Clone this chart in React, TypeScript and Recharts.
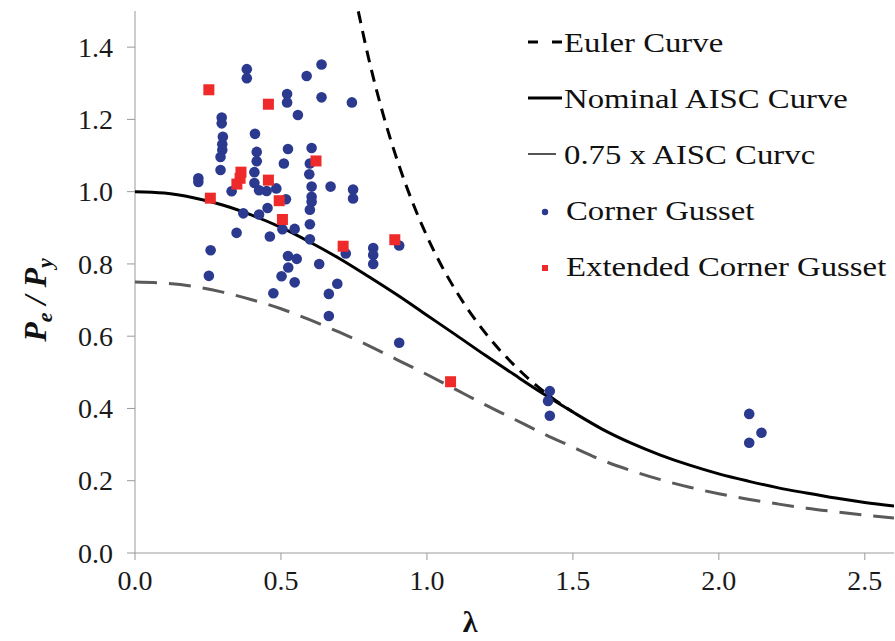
import React from "react";
import { ScatterChart, Scatter, XAxis, YAxis } from "recharts";

// slenderness values used for the two AISC curves
const aiscLambda = [0, 0.1, 0.2, 0.3, 0.4, 0.5, 0.6, 0.7, 0.8, 0.9, 1.0, 1.1, 1.2, 1.3, 1.4, 1.5, 1.6, 1.7, 1.8, 1.9, 2.0, 2.1, 2.2, 2.3, 2.4, 2.5, 2.6];
const aiscNominal = [1.0, 0.996, 0.983, 0.963, 0.935, 0.901, 0.86, 0.815, 0.765, 0.713, 0.658, 0.603, 0.547, 0.493, 0.44, 0.39, 0.343, 0.304, 0.271, 0.243, 0.219, 0.199, 0.181, 0.166, 0.152, 0.14, 0.13];
const aiscReduced = [0.75, 0.747, 0.738, 0.722, 0.701, 0.676, 0.645, 0.611, 0.574, 0.534, 0.494, 0.452, 0.41, 0.37, 0.33, 0.293, 0.257, 0.228, 0.203, 0.182, 0.164, 0.149, 0.136, 0.124, 0.114, 0.105, 0.097];

const eulerLambda = [0.765, 0.8, 0.85, 0.9, 0.95, 1.0, 1.05, 1.1, 1.2, 1.3, 1.4, 1.5];
const eulerRatio = [1.499, 1.37, 1.214, 1.083, 0.972, 0.877, 0.795, 0.725, 0.609, 0.519, 0.447, 0.39];

const cornerLambda = [
  0.383, 0.383, 0.588, 0.639, 0.521, 0.521, 0.639, 0.558, 0.743, 0.297, 0.297, 0.411,
  0.301, 0.299, 0.299, 0.293, 0.417, 0.417, 0.524, 0.605, 0.51, 0.599, 0.293, 0.409,
  0.409, 0.597, 0.217, 0.217, 0.331, 0.425, 0.451, 0.484, 0.605, 0.67, 0.747, 0.747,
  0.605, 0.605, 0.517, 0.599, 0.454, 0.425, 0.371, 0.599, 0.599, 0.348, 0.462, 0.505,
  0.547, 0.259, 0.253, 0.524, 0.554, 0.525, 0.502, 0.547, 0.474, 0.631, 0.693, 0.664,
  0.664, 0.722, 0.816, 0.816, 0.816, 0.905, 0.905, 1.421, 1.415, 1.421, 2.104, 2.146, 2.104,
];
const cornerRatio = [
  1.339, 1.314, 1.32, 1.352, 1.27, 1.247, 1.261, 1.212, 1.247, 1.205, 1.189, 1.16,
  1.152, 1.131, 1.115, 1.096, 1.11, 1.084, 1.118, 1.121, 1.078, 1.078, 1.06, 1.054,
  1.024, 1.048, 1.037, 1.027, 1.001, 1.004, 1.002, 1.009, 1.014, 1.014, 1.006, 0.981,
  0.986, 0.972, 0.979, 0.95, 0.955, 0.937, 0.94, 0.91, 0.868, 0.886, 0.876, 0.896,
  0.897, 0.838, 0.767, 0.822, 0.814, 0.79, 0.766, 0.749, 0.719, 0.8, 0.745, 0.717,
  0.656, 0.829, 0.844, 0.825, 0.8, 0.851, 0.582, 0.448, 0.421, 0.38, 0.385, 0.333, 0.305,
];

const extendedLambda = [0.253, 0.457, 0.363, 0.36, 0.349, 0.457, 0.62, 0.258, 0.494, 0.505, 0.713, 0.89, 1.081];
const extendedRatio = [1.282, 1.242, 1.054, 1.037, 1.021, 1.032, 1.085, 0.982, 0.975, 0.923, 0.849, 0.867, 0.474];

const xTicks = [0, 0.5, 1.0, 1.5, 2.0, 2.5];
const yTicks = [0, 0.2, 0.4, 0.6, 0.8, 1.0, 1.2, 1.4];

const legendNames = ["Euler Curve", "Nominal AISC Curve", "0.75 x AISC Curvc", "Corner Gusset", "Extended Corner Gusset"];

const zip = (xs: number[], ys: number[]) => xs.map((x, i) => ({ x, y: ys[i] }));

const eulerData = zip(eulerLambda, eulerRatio);
const nominalData = zip(aiscLambda, aiscNominal);
const reducedData = zip(aiscLambda, aiscReduced);
const cornerData = zip(cornerLambda, cornerRatio);
const extendedData = zip(extendedLambda, extendedRatio);

const SERIF = "'Liberation Serif', 'Times New Roman', 'DejaVu Serif', serif";
const BLUE = "#2B3A8F";
const RED = "#EE2A2A";

const NoMark = () => <g />;
const BlueDot = (p: any) => <circle cx={p.cx} cy={p.cy} r={5.3} fill={BLUE} />;
const RedSquare = (p: any) => <rect x={p.cx - 5.5} y={p.cy - 5.5} width={11} height={11} fill={RED} />;

function LegendIcon({ index }: { index: number }) {
  if (index === 0)
    return (
      <g stroke="#000" strokeWidth={3}>
        <line x1={4} y1={27} x2={14} y2={27} />
        <line x1={28} y1={27} x2={38} y2={27} />
      </g>
    );
  if (index === 1) return <line x1={4} y1={27} x2={38} y2={27} stroke="#000" strokeWidth={3} />;
  if (index === 2) return <line x1={4} y1={27} x2={32} y2={27} stroke="#555" strokeWidth={2} />;
  if (index === 3) return <circle cx={21} cy={29} r={3.2} fill={BLUE} />;
  return <rect x={18} y={26} width={6} height={6} fill={RED} />;
}

// legend drawn as an overlay so it does not shrink the plot area
function ChartLegend() {
  return (
    <div style={{ position: "absolute", left: 524, top: 15, fontFamily: SERIF, fontSize: 28, color: "#111" }}>
      {legendNames.map((name, i) => (
        <div key={name} style={{ display: "flex", alignItems: "flex-start", height: 56, lineHeight: "56px", whiteSpace: "nowrap" }}>
          <svg width={40} height={56} style={{ flex: "none" }}>
            <LegendIcon index={i} />
          </svg>
          <span
            style={{
              marginLeft: i > 2 ? 2 : 0,
              display: "inline-block",
              transform: "scaleX(1.17)",
              transformOrigin: "left center",
            }}
          >
            {name}
          </span>
        </div>
      ))}
    </div>
  );
}

const YLabel = () => (
  <text
    x={0}
    y={0}
    transform="translate(46, 300) rotate(-90)"
    textAnchor="middle"
    fontFamily={SERIF}
    fontWeight="bold"
    fontStyle="italic"
    fontSize={32}
    fill="#111"
  >
    P<tspan fontSize={22} dy={6}>e</tspan>
    <tspan dy={-6}> / P</tspan>
    <tspan fontSize={22} dy={6}>y</tspan>
  </text>
);

const XLabel = () => (
  <text x={470} y={632} textAnchor="middle" fontFamily={SERIF} fontWeight="bold" fontSize={30} fill="#111">
    λ
  </text>
);

export default function App() {
  const tickStyle = {
    fill: "#1a1a1a",
    fontSize: 27,
    fontFamily: SERIF,
    textLength: 35,
    lengthAdjust: "spacingAndGlyphs",
  };
  return (
    <div style={{ position: "absolute", left: 0, top: 0, width: 895, height: 641, background: "#fff", fontFamily: SERIF }}>
      <ScatterChart width={895} height={641} margin={{ top: 11, right: 1, bottom: 0, left: 0 }} style={{ fontFamily: SERIF }}>
        <XAxis
          type="number"
          dataKey="x"
          domain={[0, 2.6]}
          ticks={xTicks}
          allowDataOverflow
          tickFormatter={(v: number) => v.toFixed(1)}
          height={88}
          stroke="#9a9a9a"
          tick={tickStyle}
          tickSize={7}
          tickMargin={11}
          label={{ content: XLabel }}
        />
        <YAxis
          type="number"
          dataKey="y"
          domain={[0, 1.5]}
          ticks={yTicks}
          allowDataOverflow
          tickFormatter={(v: number) => v.toFixed(1)}
          width={135}
          stroke="#9a9a9a"
          tick={tickStyle}
          tickSize={8}
          tickMargin={14}
          label={{ content: YLabel }}
        />
        <Scatter
          name="Euler Curve"
          data={eulerData}
          line={{ stroke: "#000", strokeWidth: 3, strokeDasharray: "12 8" }}
          lineJointType="monotoneX"
          shape={NoMark}
          isAnimationActive={false}
        />
        <Scatter
          name="Nominal AISC Curve"
          data={nominalData}
          line={{ stroke: "#000", strokeWidth: 3 }}
          lineJointType="monotoneX"
          shape={NoMark}
          isAnimationActive={false}
        />
        <Scatter
          name="0.75 x AISC Curvc"
          data={reducedData}
          line={{ stroke: "#5a5a5a", strokeWidth: 3, strokeDasharray: "22 12" }}
          lineJointType="monotoneX"
          shape={NoMark}
          isAnimationActive={false}
        />
        <Scatter name="Corner Gusset" data={cornerData} shape={BlueDot} isAnimationActive={false} />
        <Scatter name="Extended Corner Gusset" data={extendedData} shape={RedSquare} isAnimationActive={false} />
      </ScatterChart>
      <ChartLegend />
    </div>
  );
}
